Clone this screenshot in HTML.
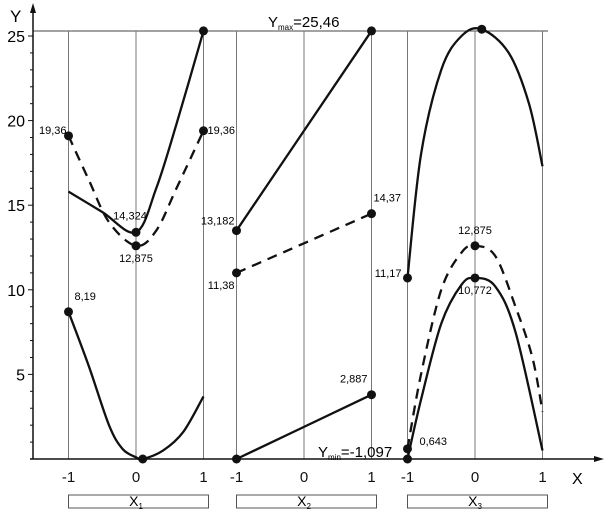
<!DOCTYPE html>
<html><head><meta charset="utf-8"><style>
body{margin:0;background:#fff}
svg{display:block;font-family:"Liberation Sans",sans-serif}
</style></head><body>
<svg id="chart" width="612" height="529" viewBox="0 0 612 529">
<g id="grid"></g>
<g id="axes"></g>
<g id="series"></g>
<g id="labels"></g>
</svg>
<script>
const yTicks=[5,10,15,20,25];
const xTickLabels=["-1","0","1"];
const panelNames=["X1","X2","X3"];
// panel 1
const p1UpperX=[-1,-0.5,0,0.3,0.6,1];
const p1UpperY=[15.8,14.6,13.4,16,19.8,25.3];
const p1DashX=[-1,-0.7,-0.4,0,0.3,0.6,1];
const p1DashY=[19.1,16.5,14.0,12.6,13.5,16.0,19.4];
const p1LowerX=[-1,-0.7,-0.4,-0.2,0,0.1,0.4,0.7,1];
const p1LowerY=[8.7,5.5,2,0.6,0.1,0,0.5,1.6,3.7];
// panel 2
const p2UpperX=[-1,1]; const p2UpperY=[13.5,25.3];
const p2DashX=[-1,1]; const p2DashY=[11.0,14.5];
const p2LowerX=[-1,1]; const p2LowerY=[0,3.8];
// panel 3
const p3UpperX=[-1,-0.8,-0.5,-0.2,0.1,0.5,0.8,1];
const p3UpperY=[10.7,18,23,25,25.4,24,21,17.3];
const p3DashX=[-1,-0.8,-0.5,-0.2,0,0.3,0.6,0.85,1];
const p3DashY=[0.6,5,10,12.2,12.6,12,9,6,2.8];
const p3LowerX=[-1,-0.8,-0.5,-0.2,0,0.3,0.6,1];
const p3LowerY=[0,3.5,8,10.3,10.7,10.2,7.5,0.5];
const pointLabels=[
 [0,-1,19.1,"19,36",-2,-2,"end"],[0,1,19.4,"19,36",4,3,"start"],[0,0,13.4,"14,324",-6,-13,"middle"],
 [0,0,12.6,"12,875",0,16,"middle"],[0,-1,8.7,"8,19",6,-12,"start"],
 [1,-1,13.5,"13,182",-2,-6,"end"],[1,-1,11.0,"11,38",-2,16,"end"],[1,1,14.5,"14,37",2,-12,"start"],
 [1,1,3.8,"2,887",-4,-12,"end"],[2,-1,10.7,"11,17",-6,-1,"end"],[2,0,12.6,"12,875",0,-12,"middle"],
 [2,0,10.7,"10,772",0,16,"middle"],[2,-1,0.6,"0,643",12,-4,"start"]];
const panelCenters=[136,304,475];
const NS="http://www.w3.org/2000/svg";
function Y(v){return 459-v*16.92;}
function X(p,x){return panelCenters[p]+x*67.5;}
function el(t,a,parent){const e=document.createElementNS(NS,t);for(const k in a)e.setAttribute(k,a[k]);document.getElementById(parent).appendChild(e);return e;}
function smooth(pts){let d="M"+pts[0][0]+","+pts[0][1];for(let i=0;i<pts.length-1;i++){const p0=pts[Math.max(i-1,0)],p1=pts[i],p2=pts[i+1],p3=pts[Math.min(i+2,pts.length-1)];d+=" C"+(p1[0]+(p2[0]-p0[0])/6)+","+(p1[1]+(p2[1]-p0[1])/6)+" "+(p2[0]-(p3[0]-p1[0])/6)+","+(p2[1]-(p3[1]-p1[1])/6)+" "+p2[0]+","+p2[1];}return d;}
// grid
const ymaxLine=el("line",{x1:33,y1:31,x2:548,y2:31,stroke:"#444","stroke-width":1},"grid");


panelCenters.forEach((c,p)=>{[-1,0,1].forEach((x,i)=>{
 const l=el("line",{x1:X(p,x),y1:31,x2:X(p,x),y2:459,stroke:"#777","stroke-width":1},"grid");
 
 
 const t=el("text",{x:X(p,x),y:482,"font-size":15,"text-anchor":"middle",fill:"#111"},"labels");t.textContent=xTickLabels[i];
 
 });
 const b=el("rect",{x:X(p,-1),y:495,width:140,height:13,fill:"#fff",stroke:"#555"},"labels");
 
 
 const bt=el("text",{x:X(p,0),y:506,"font-size":14,"text-anchor":"middle"},"labels");
 bt.innerHTML="X<tspan font-size='8' dy='3'>"+panelNames[p].slice(1)+"</tspan>";
 
 });
// axes
let ax=el("line",{x1:33,y1:459,x2:33,y2:8,stroke:"#111","stroke-width":1.5},"axes");


ax=el("polygon",{points:"33,3 30,13 36,13",fill:"#111"},"axes");


ax=el("line",{x1:30,y1:459,x2:600,y2:459,stroke:"#111","stroke-width":1.5},"axes");


ax=el("polygon",{points:"604,459 594,456 594,462",fill:"#111"},"axes");


yTicks.forEach(v=>{const tk=el("line",{x1:28,y1:Y(v),x2:33,y2:Y(v),stroke:"#111"},"axes");
 
 
 const l=el("text",{x:25,y:Y(v)+6,"font-size":16,"text-anchor":"end"},"labels");l.textContent=v;
 
 });
for(let v=1;v<25;v++){if(v%5){const tk=el("line",{x1:30,y1:Y(v),x2:33,y2:Y(v),stroke:"#111"},"axes");
 
 }}
let tx=el("text",{x:10,y:22,"font-size":17},"labels");tx.textContent="Y";


tx=el("text",{x:572,y:484,"font-size":16},"labels");tx.textContent="X";


tx=el("text",{x:268,y:27,"font-size":15},"labels");tx.innerHTML="Y<tspan font-size='8' dy='3'>max</tspan><tspan dy='-3'>=25,46</tspan>";


tx=el("text",{x:318,y:457,"font-size":15},"labels");tx.innerHTML="Y<tspan font-size='8' dy='3'>min</tspan><tspan dy='-3'>=-1,097</tspan>";


// series
const seriesList=[[0,p1UpperX,p1UpperY,0],[0,p1DashX,p1DashY,1],[0,p1LowerX,p1LowerY,0],[1,p2UpperX,p2UpperY,0],[1,p2DashX,p2DashY,1],[1,p2LowerX,p2LowerY,0],[2,p3UpperX,p3UpperY,0],[2,p3DashX,p3DashY,1],[2,p3LowerX,p3LowerY,0]];
seriesList.forEach(s=>{const pts=s[1].map((x,i)=>[X(s[0],x),Y(s[2][i])]);
 const p=el("path",{d:smooth(pts),fill:"none",stroke:"#111","stroke-width":2.3,"stroke-dasharray":s[3]?"10,7":"none"},"series");
 
 });
const dots=[[0,-1,19.1],[0,0,13.4],[0,0,12.6],[0,1,25.3],[0,1,19.4],[0,-1,8.7],[0,0.1,0],[1,-1,13.5],[1,1,25.3],[1,-1,11.0],[1,1,14.5],[1,-1,0],[1,1,3.8],[2,-1,10.7],[2,0.1,25.4],[2,-1,0.6],[2,-1,0],[2,0,12.6],[2,0,10.7]];
dots.forEach(d=>{const c=el("circle",{cx:X(d[0],d[1]),cy:Y(d[2]),r:4.5,fill:"#111"},"series");
 
 });
pointLabels.forEach(l=>{const e=el("text",{x:X(l[0],l[1])+l[4],y:Y(l[2])+l[5],"font-size":11,"text-anchor":l[6]},"labels");e.textContent=l[3];
 
 });
</script>
</body></html>
